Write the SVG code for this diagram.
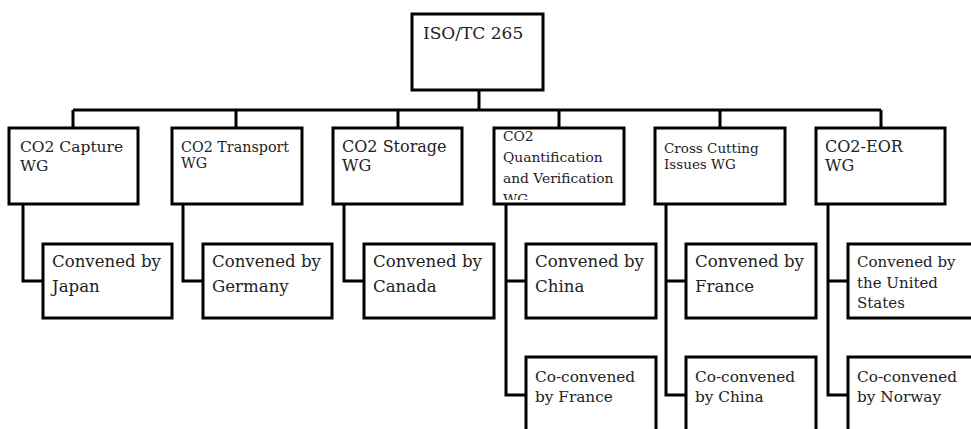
<svg xmlns="http://www.w3.org/2000/svg" width="971" height="429" viewBox="0 0 971 429">
<style>
.box{fill:#fff;stroke:#000;stroke-width:3}
.ln{fill:none;stroke:#000;stroke-width:3}
text{font-family:"DejaVu Serif","Liberation Serif",serif;fill:#222}
</style>
<defs>
<clipPath id="qclip"><rect x="494" y="129" width="129" height="71"/></clipPath>
</defs>
<rect width="971" height="429" fill="#fff"/>
<g id="connectors">
<path class="ln" d="M479 90V110M73 110H881M73 110V128M236 110V128M398 110V128M559 110V128M720 110V128M881 110V128"/>
<path class="ln" d="M23 204V281H43M183 204V281H203M344 204V281H364M506 204V395H526M506 281H526M666 204V395H686M666 281H686M828 204V395H848M828 281H848"/>
</g>
<g id="iso"><rect class="box" x="412" y="14" width="131" height="76"/><text x="423" y="39" font-size="17">ISO/TC 265</text></g>
<g id="wg1"><rect class="box" x="9" y="128" width="129" height="76"/><text x="20" y="152" font-size="15.5">CO2 Capture</text><text x="20" y="171" font-size="15.5">WG</text></g>
<g id="wg2"><rect class="box" x="172" y="128" width="130" height="76"/><text x="181" y="152" font-size="14.3">CO2 Transport</text><text x="181" y="168" font-size="14.3">WG</text></g>
<g id="wg3"><rect class="box" x="333" y="128" width="129" height="76"/><text x="342" y="152" font-size="16">CO2 Storage</text><text x="342" y="171" font-size="16">WG</text></g>
<g id="wg4"><rect class="box" x="494" y="128" width="130" height="76"/><g clip-path="url(#qclip)"><text x="503" y="141" font-size="13.8">CO2</text><text x="503" y="162" font-size="13.8">Quantification</text><text x="503" y="183" font-size="13.8">and Verification</text><text x="503" y="204" font-size="13.8">WG</text></g></g>
<g id="wg5"><rect class="box" x="655" y="128" width="130" height="76"/><text x="664" y="153" font-size="13.5">Cross Cutting</text><text x="664" y="169" font-size="13.5">Issues WG</text></g>
<g id="wg6"><rect class="box" x="816" y="128" width="129" height="76"/><text x="825" y="152" font-size="16">CO2-EOR</text><text x="825" y="171" font-size="16">WG</text></g>
<g id="c1"><rect class="box" x="43" y="244" width="129" height="74"/><text x="52" y="267" font-size="16.6">Convened by</text><text x="52" y="292" font-size="16.6">Japan</text></g>
<g id="c2"><rect class="box" x="203" y="244" width="129" height="74"/><text x="212" y="267" font-size="16.6">Convened by</text><text x="212" y="292" font-size="16.6">Germany</text></g>
<g id="c3"><rect class="box" x="364" y="244" width="130" height="74"/><text x="373" y="267" font-size="16.6">Convened by</text><text x="373" y="292" font-size="16.6">Canada</text></g>
<g id="c4"><rect class="box" x="526" y="244" width="130" height="74"/><text x="535" y="267" font-size="16.6">Convened by</text><text x="535" y="292" font-size="16.6">China</text></g>
<g id="c5"><rect class="box" x="686" y="244" width="130" height="74"/><text x="695" y="267" font-size="16.6">Convened by</text><text x="695" y="292" font-size="16.6">France</text></g>
<g id="c6"><rect class="box" x="848" y="244" width="130" height="74"/><text x="857" y="267" font-size="15">Convened by</text><text x="857" y="288" font-size="15">the United</text><text x="857" y="308" font-size="15">States</text></g>
<g id="c7"><rect class="box" x="526" y="357" width="130" height="90"/><text x="535" y="382" font-size="15.3">Co-convened</text><text x="535" y="402" font-size="15.3">by France</text></g>
<g id="c8"><rect class="box" x="686" y="357" width="130" height="90"/><text x="695" y="382" font-size="15.3">Co-convened</text><text x="695" y="402" font-size="15.3">by China</text></g>
<g id="c9"><rect class="box" x="848" y="357" width="130" height="90"/><text x="857" y="382" font-size="15.3">Co-convened</text><text x="857" y="402" font-size="15.3">by Norway</text></g>
</svg>
